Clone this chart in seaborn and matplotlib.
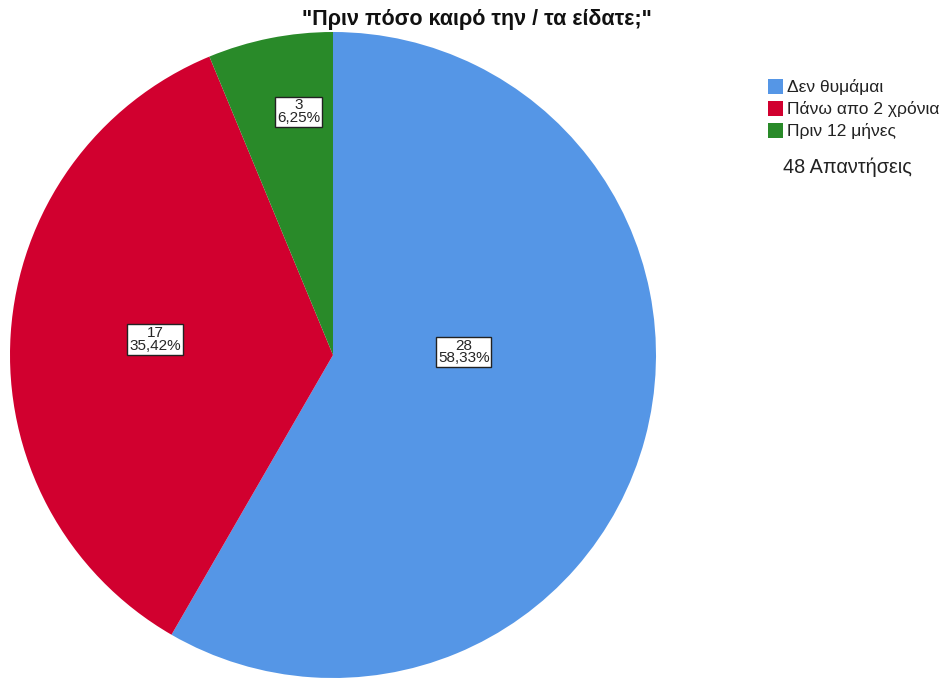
import matplotlib
matplotlib.use("Agg")
import matplotlib.pyplot as plt
import matplotlib.patches as mpatches
import seaborn as sns
import numpy as np

# Survey answers: "How long ago did you see it/them?"
categories = ["Δεν θυμάμαι", "Πάνω απο 2 χρόνια", "Πριν 12 μήνες"]
counts = [28, 17, 3]
colors = ["#5596E6", "#D1002F", "#298A29"]
title = '"Πριν πόσο καιρό την / τα είδατε;"'
total_label = f"{sum(counts)} Απαντήσεις"

sns.set_theme(style="white")
plt.rcParams["font.family"] = ["Liberation Sans", "DejaVu Sans"]

fig = plt.figure(figsize=(9.48, 6.79), dpi=100)
fig.patch.set_facecolor("white")
ax = fig.add_axes([10 / 948, 1 / 679, 646 / 948, 646 / 679])

wedges, _ = ax.pie(counts, colors=colors, startangle=90, counterclock=False,
                   radius=1.0, wedgeprops=dict(linewidth=0))
ax.set_xlim(-1, 1)
ax.set_ylim(-1, 1)
ax.set_aspect("equal")
ax.axis("off")

# label placement (radius fraction, angle in degrees) for each slice
label_pos = [(0.405, 1.3), (0.553, 175.0), (0.76, 98.0)]
total = sum(counts)
for c, (r, a) in zip(counts, label_pos):
    pct = f"{100 * c / total:.2f}".replace(".", ",")
    ax.text(r * np.cos(np.radians(a)), r * np.sin(np.radians(a)),
            f"{c}\n{pct}%", ha="center", va="center", fontsize=11,
            linespacing=0.9,
            bbox=dict(boxstyle="square,pad=0.12", facecolor="white",
                      edgecolor="#222222", linewidth=1.0))

fig.text(477 / 948, 1 - 20 / 679, title, ha="center", va="center",
         fontsize=15.5, fontweight="bold", color="#111111")

handles = [mpatches.Patch(facecolor=col, edgecolor="none") for col in colors]
leg = fig.legend(handles, categories, loc="upper left",
                 bbox_to_anchor=(768 / 948, 1 - 79 / 679), frameon=False,
                 fontsize=12.5, handlelength=0.85, handleheight=0.95,
                 handletextpad=0.25, labelspacing=0.32, borderpad=0,
                 borderaxespad=0)
for t in leg.get_texts():
    t.set_color("#222222")
fig.text(783 / 948, 1 - 167 / 679, total_label, ha="left", va="center",
         fontsize=14.3, color="#222222")

fig.savefig("out.png", dpi=100, facecolor="white")
